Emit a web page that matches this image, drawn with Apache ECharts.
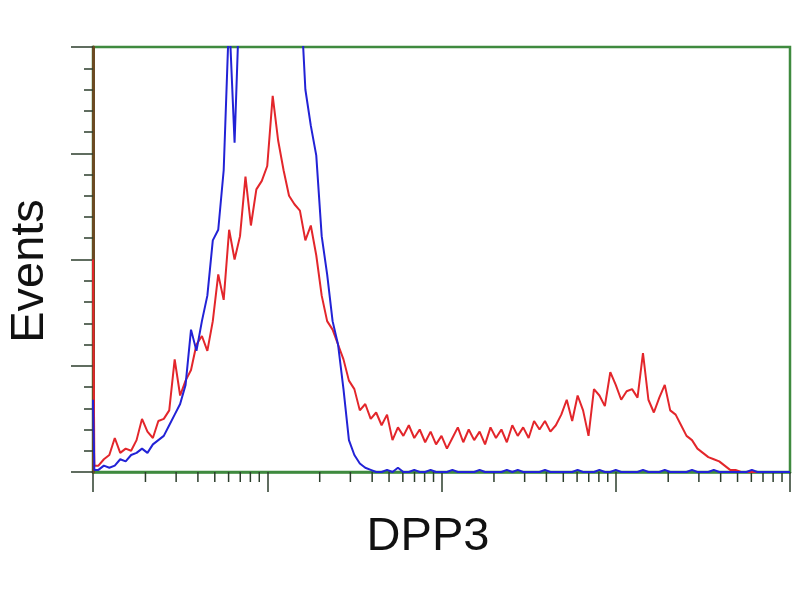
<!DOCTYPE html>
<html>
<head>
<meta charset="utf-8">
<script src="https://cdn.jsdelivr.net/npm/echarts@6/dist/echarts.min.js"></script>
<style>html,body{margin:0;padding:0;background:#fff;}#chart{width:800px;height:600px;}</style>
</head>
<body>
<div id="chart"></div>
<script>
// Channels (4 decades mapped on 1024 linear channels)
const channels = [0, 2];
for (let c = 8; c <= 1024; c += 8) channels.push(c);

// Red histogram (DPP3 stained)
const redCounts = [
  100, 3,
  3, 6, 8, 16, 9, 11, 10, 15, 25, 19,
  16, 24, 25, 29, 53, 36, 43, 48, 60, 64,
  57, 71, 93, 81, 114, 100, 111, 139, 116, 133,
  137, 144, 177, 156, 142, 130, 126, 123, 109, 116,
  102, 83, 71, 67, 60, 53, 43, 39, 29, 32,
  25, 28, 22, 27, 15, 21, 17, 22, 16, 20,
  14, 19, 13, 17, 11, 16, 21, 14, 20, 15,
  19, 13, 21, 16, 20, 14, 22, 17, 21, 16,
  24, 20, 24, 19, 22, 27, 34, 24, 36, 29,
  17, 39, 36, 31, 47, 41, 34, 38, 39, 35,
  56, 34, 28, 35, 41, 29, 27, 22, 17, 15,
  11, 9, 7, 6, 5, 3, 1, 1, 0, 0,
  0, 0, 0, 0, 0, 0, 0, 0
];

// Blue histogram (control)
const blueCounts = [
  34, 1,
  1, 3, 2, 3, 6, 5, 8, 9, 11, 9,
  13, 15, 17, 22, 27, 32, 41, 67, 57, 71,
  83, 109, 114, 142, 215, 155, 230, 260, 280, 290,
  300, 310, 300, 290, 280, 270, 250, 230, 180, 163,
  149, 111, 93, 71, 60, 39, 15, 8, 4, 2,
  1,
  0, 0, 1, 0, 2, 0, 0, 1, 0, 0,
  1, 0, 0, 0, 1, 0, 0, 0, 0, 1,
  0, 0, 0, 0, 1, 0, 1, 0, 0, 0,
  0, 1, 0, 0, 0, 0, 0, 1, 0, 0,
  0, 1, 0, 0, 1, 0, 0, 0, 0, 1,
  0, 0, 0, 1, 0, 0, 0, 0, 1, 0,
  0, 0, 1, 0, 0, 0, 0, 0, 0, 1,
  0, 0, 0, 0, 0, 0, 0
];

const xDecadeTicks = [0, 256, 512, 768, 1024];
const xMinorTickValues = [];
for (let d = 0; d < 4; d++) {
  for (let k = 2; k <= 9; k++) xMinorTickValues.push(256 * (d + Math.log10(k)));
}

const xLabel = 'DPP3';
const yLabel = 'Events';

const green = '#3f8a3f';
const tickColor = '#2c3e2c';

const chart = echarts.init(document.getElementById('chart'), null, {renderer: 'canvas'});
chart.setOption({
  animation: false,
  backgroundColor: '#ffffff',
  grid: {left: 93, right: 10, top: 47, bottom: 128, show: true, borderColor: green, borderWidth: 2.5, backgroundColor: 'transparent'},
  xAxis: {
    type: 'value', min: xDecadeTicks[0], max: xDecadeTicks[xDecadeTicks.length - 1], interval: 256,
    axisLine: {show: true, onZero: false, lineStyle: {color: green, width: 2.5}},
    axisTick: {show: true, inside: false, length: 20, lineStyle: {color: tickColor, width: 1.5}},
    axisLabel: {show: false},
    splitLine: {show: false}
  },
  yAxis: {
    type: 'value', min: 0, max: 200, interval: 50, z: 1,
    axisLine: {show: true, lineStyle: {color: '#6a4a22', width: 3}},
    axisTick: {show: true, inside: false, length: 22, lineStyle: {color: tickColor, width: 1.5}},
    minorTick: {show: true, splitNumber: 5, length: 9, lineStyle: {color: tickColor, width: 1.5}},
    axisLabel: {show: false},
    splitLine: {show: false}
  },
  graphic: [
    {type: 'text', x: 30, y: 271, rotation: Math.PI / 2,
     style: {text: yLabel, font: '47px "Liberation Sans", Arial, sans-serif', fill: '#111', textAlign: 'center', textVerticalAlign: 'middle'}},
    {type: 'text', x: 428, y: 537,
     style: {text: xLabel, font: '47px "Liberation Sans", Arial, sans-serif', fill: '#111', textAlign: 'center', textVerticalAlign: 'middle'}}
  ],
  series: [
    {
      type: 'line', name: 'red', symbol: 'none', clip: true, z: 3,
      lineStyle: {color: '#e3262b', width: 2},
      data: redCounts.map((v, i) => [channels[i], v])
    },
    {
      type: 'line', name: 'blue', symbol: 'none', clip: true, z: 4,
      lineStyle: {color: '#2222d6', width: 2},
      data: blueCounts.map((v, i) => [channels[i], v])
    },
    {
      type: 'custom', name: 'minorTicks', silent: true, clip: false, z: 1,
      encode: {x: 0, y: 1},
      data: xMinorTickValues.map(v => [v, 0]),
      renderItem: function (params, api) {
        const p = api.coord([api.value(0), 0]);
        return {type: 'line', shape: {x1: p[0], y1: p[1], x2: p[0], y2: p[1] + 10}, style: {stroke: tickColor, lineWidth: 1.5}};
      }
    }
  ]
});
</script>
</body>
</html>
